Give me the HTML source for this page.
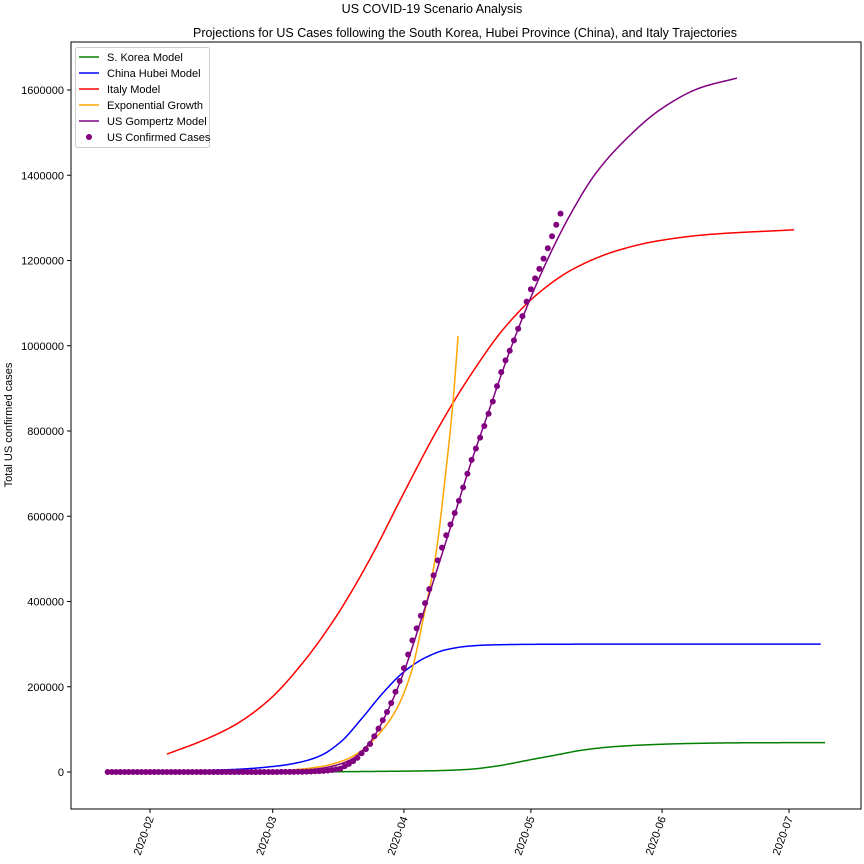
<!DOCTYPE html>
<html><head><meta charset="utf-8"><style>
body{margin:0;background:#fff}
svg{display:block;font-family:"Liberation Sans","DejaVu Sans",sans-serif}
</style></head><body>
<svg id="chart" width="864" height="864" viewBox="0 0 864 864">
<text x="432" y="13" text-anchor="middle" font-size="12.5">US COVID-19 Scenario Analysis</text>
<text x="465" y="37" text-anchor="middle" font-size="12.5">Projections for US Cases following the South Korea, Hubei Province (China), and Italy Trajectories</text>
<text transform="translate(12,425) rotate(-90)" text-anchor="middle" font-size="11">Total US confirmed cases</text>
<g id="series"></g>
<rect x="71" y="42" width="790" height="767" fill="none" stroke="#000" stroke-width="1"/>
<g id="axes"></g>
<g>
<rect x="75.5" y="47.5" width="134" height="100" rx="2" fill="#fff" fill-opacity="0.8" stroke="#ccc"/>
<g><line x1="79" x2="99" y1="57" y2="57" stroke="green" stroke-width="1.5"/><text x="107" y="61" font-size="11">S. Korea Model</text></g>
<g><line x1="79" x2="99" y1="73" y2="73" stroke="blue" stroke-width="1.5"/><text x="107" y="77" font-size="11">China Hubei Model</text></g>
<g><line x1="79" x2="99" y1="89" y2="89" stroke="red" stroke-width="1.5"/><text x="107" y="93" font-size="11">Italy Model</text></g>
<g><line x1="79" x2="99" y1="105" y2="105" stroke="orange" stroke-width="1.5"/><text x="107" y="109" font-size="11">Exponential Growth</text></g>
<g><line x1="79" x2="99" y1="121" y2="121" stroke="purple" stroke-width="1.5"/><text x="107" y="125" font-size="11">US Gompertz Model</text></g>
<g><circle cx="89" cy="137" r="3" fill="purple"/><text x="107" y="141" font-size="11">US Confirmed Cases</text></g>
</g>
</svg>
<script>
// day index: 0 = 2020-02-01
const xTickLabels=["2020-02","2020-03","2020-04","2020-05","2020-06","2020-07"];
const xTickDays=[0,29,60,90,121,151];
const yTicks=[0,200000,400000,600000,800000,1000000,1200000,1400000,1600000];
const confirmedStartDay=-10;
const confirmed=[1,2,2,5,5,5,5,5,7,8,8,11,11,11,11,11,11,11,11,12,12,13,13,13,13,13,13,13,13,15,15,15,51,51,57,58,60,68,74,98,118,149,217,262,402,518,583,959,1281,1663,2179,2727,3499,4632,6421,7786,13680,19101,25493,33276,43847,53740,65778,83836,101657,121478,140886,161807,188172,213372,243762,275586,308853,337072,366667,396223,429052,461437,496535,526396,555313,580619,607670,636350,667592,699706,732197,758809,784326,811865,840351,869170,905358,938154,965785,988197,1012582,1039909,1069424,1103461,1132539,1158040,1180375,1204351,1228603,1257023,1283929,1310000];
const koreaDays=[36,55,67,75,82,89.5,96,102,109,118,128,140,159.5];
const koreaVals=[0,1500,3000,6000,14000,28000,40000,51000,59000,64000,67000,68500,69000];
const hubeiDays=[-10,0,10,20,30,35,40,45,50,55,60,65,70,75,80,90,110,130,158.5];
const hubeiVals=[300,1000,3000,6000,14000,22000,37000,70000,125000,185000,235000,268000,287000,295000,298000,299500,300000,300000,300000];
const italyDays=[4,12,20,28,36,44,52,60,68,76,84,92,100,110,120,132,152.2];
const italyVals=[42000,72000,110000,168000,255000,365000,500000,655000,805000,935000,1045000,1125000,1180000,1222000,1246000,1261000,1272000];
const expDays=[10,23,32,40,46,50,54,58,61.7,64.7,67.6,69.6,71.6,72.8];
const expVals=[0,1000,4000,12000,28000,50000,88000,143000,233000,366000,514000,678000,868000,1023000];
const gompDays=[-10,20,30,36,40,44,48,52,56,60,64,68,72,76,80,84,88,92,96,100,105,112,121,130,138.7];
const gompVals=[0,300,1500,4000,8000,16000,32000,70000,140000,235000,355000,480000,605000,730000,845000,960000,1065000,1160000,1245000,1320000,1400000,1480000,1557000,1605000,1628000];

const X=d=>150+d*4.232;
const Y=v=>772-v*682/1600000;
const NS="http://www.w3.org/2000/svg";
const series=document.getElementById('series');
const axes=document.getElementById('axes');
function mk(tag,attrs,parent){const e=document.createElementNS(NS,tag);for(const k in attrs)e.setAttribute(k,attrs[k]);parent.appendChild(e);return e;}
// monotone cubic (Fritsch-Carlson) interpolation sampled finely
function monotonePath(xs,ys){
  const n=xs.length,h=[],d=[],m=new Array(n);
  for(let i=0;i<n-1;i++){h[i]=xs[i+1]-xs[i];d[i]=(ys[i+1]-ys[i])/h[i];}
  m[0]=d[0];m[n-1]=d[n-2];
  for(let i=1;i<n-1;i++){
    if(d[i-1]*d[i]<=0)m[i]=0;
    else{const w1=2*h[i]+h[i-1],w2=h[i]+2*h[i-1];m[i]=(w1+w2)/(w1/d[i-1]+w2/d[i]);}
  }
  const pts=[];
  for(let i=0;i<n-1;i++){
    const steps=Math.max(4,Math.ceil(h[i]*3));
    for(let k=0;k<steps;k++){
      const t=k/steps,t2=t*t,t3=t2*t;
      const v=(2*t3-3*t2+1)*ys[i]+(t3-2*t2+t)*h[i]*m[i]+(-2*t3+3*t2)*ys[i+1]+(t3-t2)*h[i]*m[i+1];
      pts.push(X(xs[i]+t*h[i]).toFixed(2)+','+Y(v).toFixed(2));
    }
  }
  pts.push(X(xs[n-1]).toFixed(2)+','+Y(ys[n-1]).toFixed(2));
  return 'M'+pts.join(' L');
}
function line(days,vals,color,name){
  const e=mk('path',{d:monotonePath(days,vals),fill:'none',stroke:color,'stroke-width':1.5,'stroke-linejoin':'round'},series);
  
  
}
line(koreaDays,koreaVals,'green','s-korea-line');
line(hubeiDays,hubeiVals,'blue','china-hubei-line');
line(italyDays,italyVals,'red','italy-line');
line(expDays,expVals,'orange','exponential-line');
confirmed.forEach((v,i)=>{
  const c=mk('circle',{cx:X(confirmedStartDay+i),cy:Y(v),r:3,fill:'purple'},series);
  
  
});
line(gompDays,gompVals,'purple','gompertz-line');
yTicks.forEach(v=>{
  const y=Y(v);
  mk('line',{x1:67,x2:71,y1:y,y2:y,stroke:'#000'},axes);
  const t=mk('text',{x:64,y:y+4,'text-anchor':'end','font-size':11},axes);
  t.textContent=String(v);
  
  
});
xTickDays.forEach((d,i)=>{
  const x=X(d);
  mk('line',{x1:x,x2:x,y1:809,y2:813,stroke:'#000'},axes);
  const t=mk('text',{x:0,y:0,'text-anchor':'end','font-size':11,transform:'translate('+(x+4)+',818) rotate(-70)'},axes);
  t.textContent=xTickLabels[i];
  
  
});
</script>
</body></html>
